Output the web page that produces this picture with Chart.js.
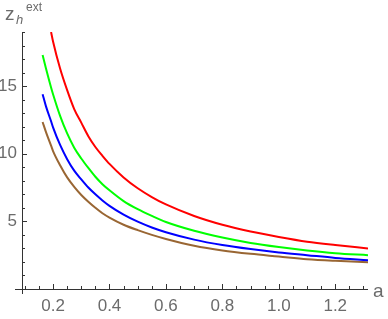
<!DOCTYPE html>
<html>
<head>
<meta charset="utf-8">
<script src="https://cdn.jsdelivr.net/npm/chart.js@4.4.0/dist/chart.umd.min.js"></script>
<style>
  html, body { margin: 0; padding: 0; background: #fff; }
  #wrap { width: 388px; height: 319px; }
</style>
</head>
<body>
<div id="wrap"><canvas id="chart"></canvas></div>
<script>
// values
const aValues = [0.163, 0.175, 0.193, 0.2, 0.225, 0.25, 0.275, 0.3, 0.325, 0.35, 0.375, 0.4, 0.45, 0.5, 0.55, 0.6, 0.7, 0.8, 0.9, 1.0, 1.1, 1.2, 1.316];
const redZ   = [null, null, 19.0, 18.3, 16.3, 14.7, 13.3, 12.3, 11.3, 10.5, 9.85, 9.25, 8.25, 7.45, 6.8, 6.25, 5.4, 4.75, 4.25, 3.85, 3.5, 3.25, 3.0];
const greenZ = [17.3, 16.3, 14.9, 14.4, 12.8, 11.5, 10.45, 9.65, 8.95, 8.3, 7.75, 7.3, 6.5, 5.9, 5.4, 4.95, 4.3, 3.8, 3.4, 3.1, 2.85, 2.65, 2.5];
const blueZ  = [14.4, 13.5, 12.4, 11.95, 10.65, 9.6, 8.75, 8.1, 7.5, 7.0, 6.55, 6.15, 5.5, 4.98, 4.55, 4.2, 3.65, 3.25, 2.95, 2.7, 2.5, 2.3, 2.13];
const brownZ = [12.35, 11.6, 10.6, 10.2, 9.15, 8.25, 7.55, 6.95, 6.45, 6.0, 5.6, 5.28, 4.75, 4.35, 4.0, 3.7, 3.2, 2.85, 2.6, 2.4, 2.2, 2.08, 1.98];

const xTicks = [0.2, 0.4, 0.6, 0.8, 1.0, 1.2];
const yTicks = [5, 10, 15];

const toPoints = (ys) => aValues.map((a, i) => ({ x: a, y: ys[i] }));

const labelColor = '#6b6b6b';
const axisColor = '#333333';

const mathAxes = {
    id: 'mathAxes',
    afterDraw(chart) {
        const { ctx, scales: { x, y } } = chart;
        const x0 = x.getPixelForValue(x.min);
        const y0 = y.getPixelForValue(0);
        ctx.save();
        ctx.strokeStyle = axisColor;
        ctx.lineWidth = 1;
        // axis lines
        ctx.beginPath();
        ctx.moveTo(x0 - 7, y0 + 0.5);
        ctx.lineTo(x.getPixelForValue(x.max), y0 + 0.5);
        ctx.moveTo(x0 + 0.5, y.getPixelForValue(y.max));
        ctx.lineTo(x0 + 0.5, y0 + 5);
        ctx.stroke();

        // x ticks (major 0.2, minor 0.05)
        ctx.beginPath();
        for (let k = 2; k <= 26; k++) {
            const v = k * 0.05;
            if (v < x.min || v > x.max) continue;
            const px = Math.round(x.getPixelForValue(v)) + 0.5;
            const major = k % 4 === 0;
            ctx.moveTo(px, y0);
            ctx.lineTo(px, y0 - (major ? 5 : 3));
        }
        // y ticks (major 5, minor 1)
        for (let v = 1; v <= 19; v++) {
            const py = Math.round(y.getPixelForValue(v)) + 0.5;
            const major = v % 5 === 0;
            ctx.moveTo(x0, py);
            ctx.lineTo(x0 + (major ? 5 : 3), py);
        }
        ctx.stroke();

        // tick labels
        ctx.fillStyle = labelColor;
        ctx.font = '17px "Liberation Sans", Arial, sans-serif';
        ctx.textAlign = 'center';
        ctx.textBaseline = 'middle';
        xTicks.forEach(v => {
            ctx.fillText(v.toFixed(1), x.getPixelForValue(v), y0 + 17);
        });
        ctx.textAlign = 'right';
        yTicks.forEach(v => {
            ctx.fillText(String(v), x0 - 5, y.getPixelForValue(v));
        });

        // axis titles
        ctx.textAlign = 'left';
        ctx.textBaseline = 'alphabetic';
        ctx.font = '19px "Liberation Sans", Arial, sans-serif';
        ctx.fillText('a', 373, y0 + 8);
        ctx.fillText('z', 5, 20);
        ctx.font = 'italic 13px "Liberation Sans", Arial, sans-serif';
        ctx.fillText('h', 16, 24);
        ctx.font = '12px "Liberation Sans", Arial, sans-serif';
        ctx.fillText('ext', 26, 11);
        ctx.restore();
    }
};

const line = (label, ys, color) => ({
    label,
    data: toPoints(ys),
    borderColor: color,
    borderWidth: 2,
    pointRadius: 0,
    fill: false,
    cubicInterpolationMode: 'monotone'
});

new Chart(document.getElementById('chart'), {
    type: 'line',
    data: {
        datasets: [
            line('red', redZ, '#ff0000'),
            line('green', greenZ, '#00ff00'),
            line('blue', blueZ, '#0000ff'),
            line('brown', brownZ, '#996633')
        ]
    },
    options: {
        responsive: true,
        maintainAspectRatio: false,
        animation: false,
        layout: { padding: { left: 22, right: 20, top: 32, bottom: 30 } },
        plugins: { legend: { display: false }, tooltip: { enabled: false } },
        scales: {
            x: { type: 'linear', min: 0.09, max: 1.316, display: false },
            y: { type: 'linear', min: 0, max: 19, display: false }
        }
    },
    plugins: [mathAxes]
});
</script>
</body>
</html>
